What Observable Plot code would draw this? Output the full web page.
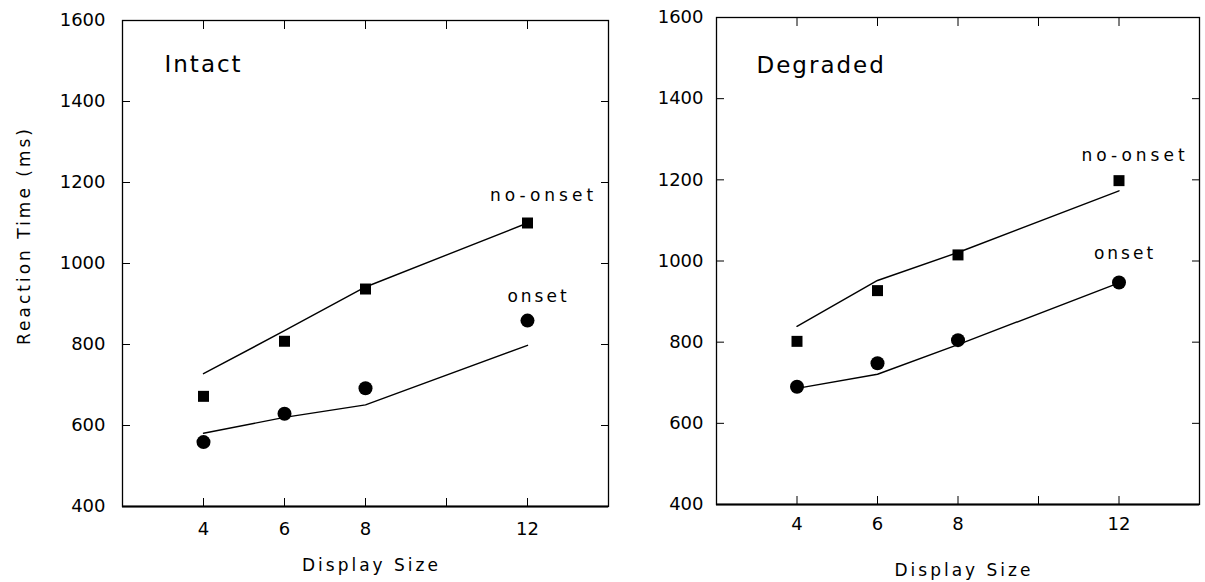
<!DOCTYPE html>
<html>
<head>
<meta charset="utf-8">
<script src="https://cdn.jsdelivr.net/npm/d3@7"></script>
<script src="https://cdn.jsdelivr.net/npm/@observablehq/plot@0.6"></script>
<style>
  body { margin: 0; background: #fff; }
  #chart { position: relative; width: 1205px; height: 582px; overflow: hidden; background: #fff; }
  #chart svg { position: absolute; top: 0; }
</style>
</head>
<body>
<div id="chart"></div>
<script>
// ---- data ----
const displaySizes = [4, 6, 8, 12];

const intactNoOnsetObserved = [672, 808, 937, 1100];
const intactOnsetObserved   = [559, 629, 692, 859];
const intactNoOnsetModel    = [728, 834, 942, 1100];
const intactOnsetModel      = [581, 620, 651, 798];

const degradedNoOnsetObserved = [802, 927, 1015, 1198];
const degradedOnsetObserved   = [690, 748, 805, 947];
const degradedNoOnsetModel    = [839, 952, 1021, 1173];
const degradedOnsetModel      = [686, 721, 794, 946];

const yTicks = [400, 600, 800, 1000, 1200, 1400, 1600];
const xTickMarks = [4, 6, 8, 10, 12];
const xTickLabels = [4, 6, 8, 12];
const xDomain = [2, 14];
const yDomain = [400, 1600];

const panelTitles = ["Intact", "Degraded"];
const seriesNames = ["no-onset", "onset"];
const xTitle = "Display Size";
const yTitle = "Reaction Time (ms)";

const FONT = "DejaVu Sans";
const letterSpacing = new Map([
  [seriesNames[0], 4], [seriesNames[1], 3],
  [panelTitles[0], 2], [panelTitles[1], 2],
  [xTitle, 3], [yTitle, 3]
]);

function makePanel(p) {
  const noOn = displaySizes.map((s, i) => ({size: s, obs: p.noOnsetObs[i], model: p.noOnsetModel[i]}));
  const on = displaySizes.map((s, i) => ({size: s, obs: p.onsetObs[i], model: p.onsetModel[i]}));
  const last = (a) => [a[a.length - 1]];
  const marks = [
    Plot.frame({stroke: "#000", strokeWidth: 1.3}),
    Plot.ruleY([yDomain[0]], {stroke: "#000", strokeWidth: 2.2}),
    Plot.axisY(yTicks, {anchor: "left", tickSize: -8, tickFormat: () => "", label: null}),
    Plot.axisY(yTicks, {anchor: "right", tickSize: -8, tickFormat: () => "", label: null}),
    Plot.axisX(xTickMarks, {anchor: "bottom", tickSize: -8, tickFormat: () => "", label: null}),
    Plot.axisX(xTickMarks, {anchor: "top", tickSize: -8, tickFormat: () => "", label: null}),
    Plot.axisY(yTicks, {anchor: "left", tickSize: 0, tickPadding: p.yPad, label: null, fontSize: 18, tickFormat: d => String(d)}),
    Plot.axisX(xTickLabels, {anchor: "bottom", tickSize: 0, tickPadding: p.xPad, label: null, fontSize: 18, tickFormat: d => String(d)}),
    Plot.line(noOn, {x: "size", y: "model", stroke: "#000", strokeWidth: 1.4}),
    Plot.line(on, {x: "size", y: "model", stroke: "#000", strokeWidth: 1.4}),
    Plot.dot(noOn, {x: "size", y: "obs", symbol: "square", r: 6.2, fill: "#000", stroke: "none"}),
    Plot.dot(on, {x: "size", y: "obs", symbol: "circle", r: 7, fill: "#000", stroke: "none"}),
    Plot.text(last(noOn), {x: "size", y: "obs", text: () => seriesNames[0], dx: p.noLab[0], dy: p.noLab[1],
      fontSize: 17, textAnchor: "middle", lineAnchor: "middle"}),
    Plot.text(last(on), {x: "size", y: "obs", text: () => seriesNames[1], dx: p.onLab[0], dy: p.onLab[1],
      fontSize: 17, textAnchor: "middle", lineAnchor: "middle"}),
    Plot.text([p.title], {frameAnchor: "top-left", text: d => d, dx: p.titlePos[0], dy: p.titlePos[1],
      fontSize: 23, textAnchor: "start", lineAnchor: "middle"}),
    Plot.text([xTitle], {frameAnchor: "bottom", text: d => d, dx: 6, dy: p.xTitleDy,
      fontSize: 17, textAnchor: "middle", lineAnchor: "middle"})
  ];
  if (p.showYTitle) {
    marks.push(Plot.text([yTitle], {frameAnchor: "left", text: d => d, rotate: -90, dx: -98, dy: -28,
      fontSize: 17, textAnchor: "middle", lineAnchor: "middle"}));
  }
  const svg = Plot.plot({
    width: p.width, height: 582,
    marginLeft: p.ml, marginRight: p.mr, marginTop: p.mt, marginBottom: p.mb,
    x: {domain: xDomain},
    y: {domain: yDomain},
    style: {fontFamily: FONT, fontSize: "18px", color: "#000", background: "transparent", maxWidth: "none"},
    marks
  });
  svg.querySelectorAll("text").forEach(t => {
    const ls = letterSpacing.get(t.textContent.trim());
    if (ls) t.setAttribute("letter-spacing", ls);
  });
  svg.style.left = p.left + "px";
  return svg;
}

const chart = document.getElementById("chart");
chart.appendChild(makePanel({
  title: panelTitles[0],
  noOnsetObs: intactNoOnsetObserved, onsetObs: intactOnsetObserved,
  noOnsetModel: intactNoOnsetModel, onsetModel: intactOnsetModel,
  left: 0, width: 612, ml: 122, mr: 4, mt: 20, mb: 76,
  yPad: 17, xPad: 15.5, xTitleDy: 59,
  titlePos: [42, 44], noLab: [16, -27], onLab: [11, -24],
  showYTitle: true
}));
chart.appendChild(makePanel({
  title: panelTitles[1],
  noOnsetObs: degradedNoOnsetObserved, onsetObs: degradedOnsetObserved,
  noOnsetModel: degradedNoOnsetModel, onsetModel: degradedOnsetModel,
  left: 610, width: 595, ml: 106, mr: 6, mt: 17, mb: 78,
  yPad: 13, xPad: 12.5, xTitleDy: 66,
  titlePos: [40, 48], noLab: [16, -25], onLab: [6, -28.6],
  showYTitle: false
}));
</script>
</body>
</html>
